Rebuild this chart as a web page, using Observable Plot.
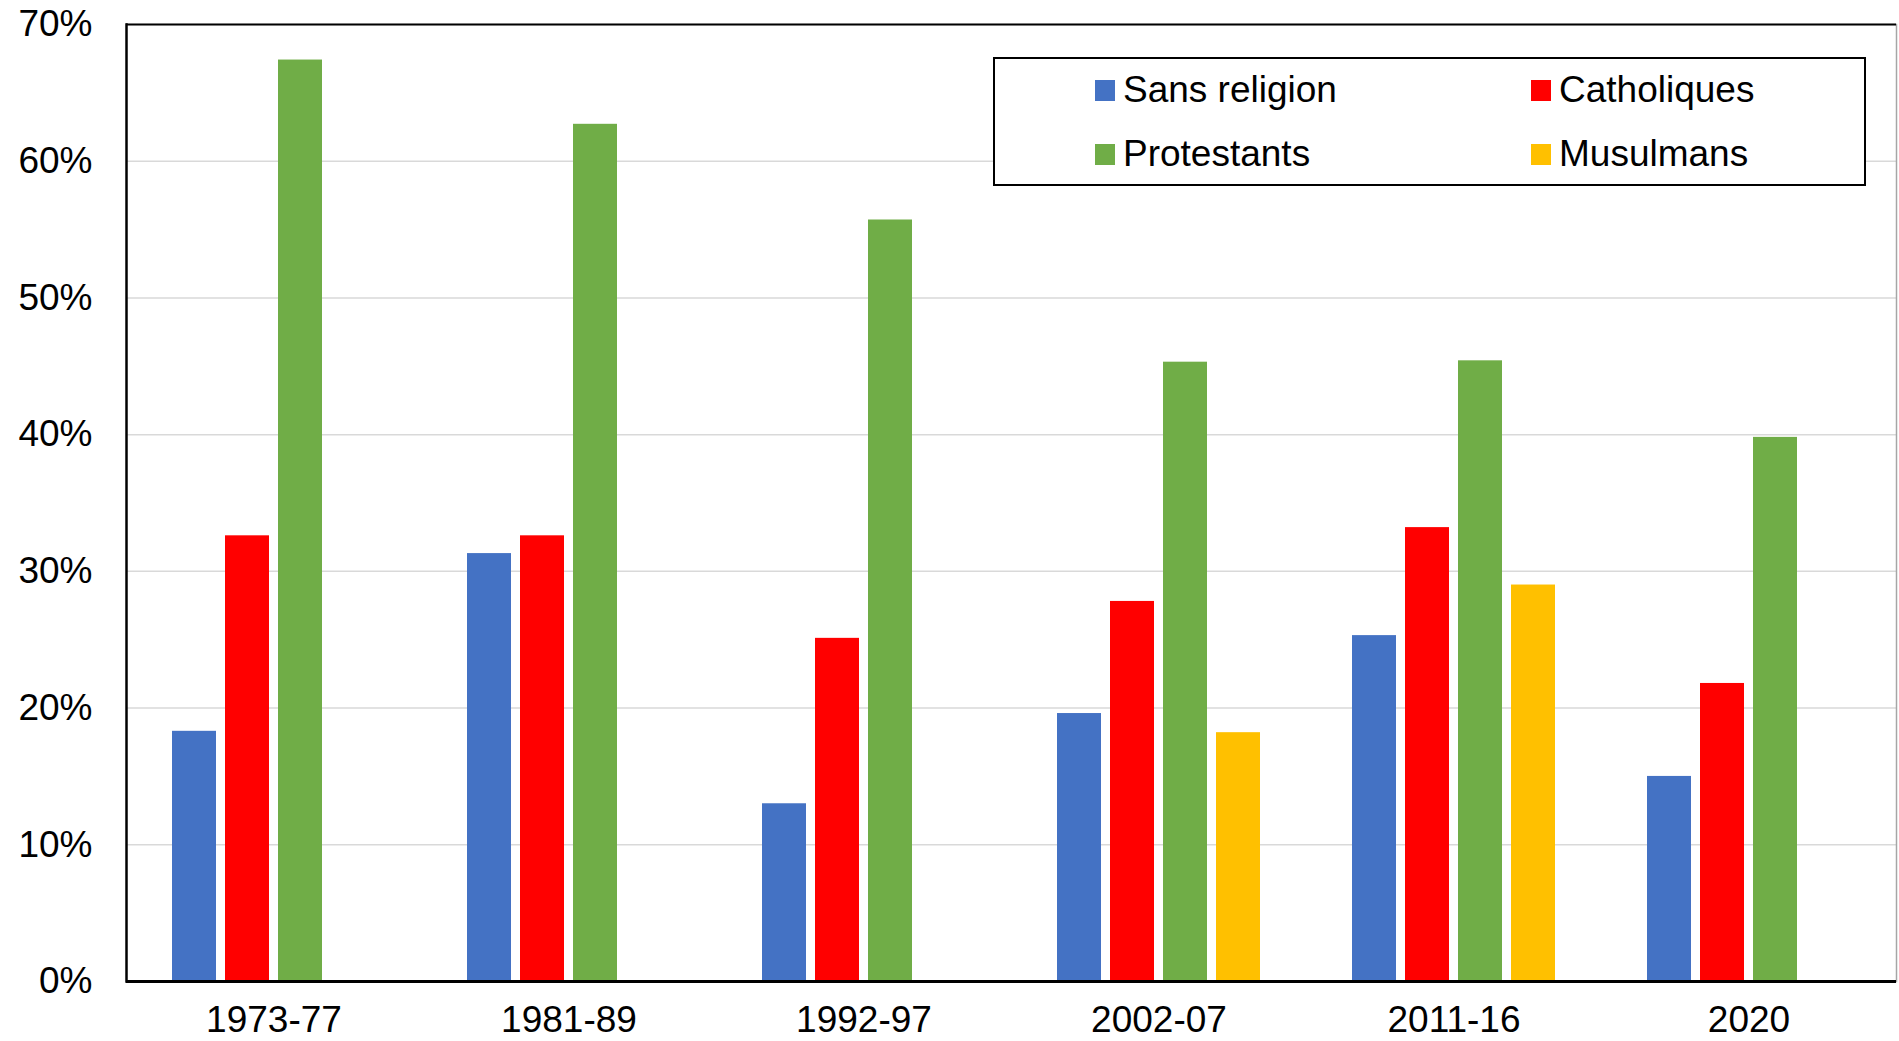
<!DOCTYPE html>
<html>
<head>
<meta charset="utf-8">
<script src="https://cdn.jsdelivr.net/npm/d3@7"></script>
<script src="https://cdn.jsdelivr.net/npm/@observablehq/plot@0.6"></script>
<style>
  html, body { margin: 0; padding: 0; background: #fff; }
  #wrap { position: relative; width: 1899px; height: 1041px; font-family: "Liberation Sans", Arial, sans-serif; }
  #legend { position: absolute; left: 993px; top: 57px; width: 873px; height: 129px; box-sizing: border-box; border: 2px solid #000; background: #fff; }
  .item { position: absolute; display: flex; align-items: center; height: 44px; font-size: 37px; color: #000; white-space: nowrap; }
  .sw { width: 20px; height: 21px; margin-right: 8px; flex: none; }
</style>
</head>
<body>
<div id="wrap"></div>
<script>
const periods = ["1973-77", "1981-89", "1992-97", "2002-07", "2011-16", "2020"];
const seriesNames = ["Sans religion", "Catholiques", "Protestants", "Musulmans"];
const seriesColors = ["#4472C4", "#FF0000", "#70AD47", "#FFC000"];
const sansReligion = [18.3, 31.3, 13.0, 19.6, 25.3, 15.0];
const catholiques = [32.6, 32.6, 25.1, 27.8, 33.2, 21.8];
const protestants = [67.4, 62.7, 55.7, 45.3, 45.4, 39.8];
const musulmans = [null, null, null, 18.2, 29.0, null];
const yTicks = [0, 10, 20, 30, 40, 50, 60, 70];

const seriesValues = [sansReligion, catholiques, protestants, musulmans];
const data = [];
periods.forEach((p, i) => {
  seriesNames.forEach((s, j) => {
    const v = seriesValues[j][i];
    if (v != null) data.push({period: p, series: s, value: v});
  });
});

const chart = Plot.plot({
  width: 1899,
  height: 1041,
  marginLeft: 123,
  marginRight: 1,
  marginTop: 24,
  marginBottom: 60,
  style: {fontFamily: "'Liberation Sans', Arial, sans-serif", fontSize: "37px", color: "#000", background: "#fff"},
  fx: {domain: periods, padding: 0, label: null},
  x: {domain: seriesNames, paddingInner: 0.175, paddingOuter: 0.86, axis: null},
  y: {domain: [0, 70], axis: null},
  color: {domain: seriesNames, range: seriesColors},
  marks: [
    Plot.gridY(yTicks, {stroke: "#d9d9d9", strokeOpacity: 1, strokeWidth: 1.5}),
    Plot.barY(data, {fx: "period", x: "series", y: "value", fill: "series"}),
    Plot.frame({anchor: "right", facetAnchor: "right", stroke: "#a6a6a6", strokeWidth: 1.5}),
    Plot.frame({anchor: "left", facetAnchor: "left", stroke: "#000", strokeWidth: 2.5}),
    Plot.ruleY([70], {stroke: "#000", strokeWidth: 2}),
    Plot.ruleY([0], {stroke: "#000", strokeWidth: 3}),
    Plot.axisY({ticks: yTicks, tickFormat: d => d + "%", tickSize: 0, tickPadding: 34, label: null}),
    Plot.axisFx({anchor: "bottom", tickSize: 0, tickPadding: 24, label: null})
  ]
});

const wrap = document.getElementById("wrap");
wrap.appendChild(chart);

const legend = document.createElement("div");
legend.id = "legend";
const positions = [[102, 33], [538, 33], [102, 97], [538, 97]];
const order = ["Sans religion", "Catholiques", "Protestants", "Musulmans"];
order.forEach((name, k) => {
  const it = document.createElement("div");
  it.className = "item";
  it.style.left = (positions[k][0] - 2) + "px";
  it.style.top = (positions[k][1] - 2 - 22) + "px";
  const sw = document.createElement("span");
  sw.className = "sw";
  sw.style.background = seriesColors[seriesNames.indexOf(name)];
  const tx = document.createElement("span");
  tx.textContent = name;
  it.appendChild(sw);
  it.appendChild(tx);
  legend.appendChild(it);
});
wrap.appendChild(legend);
</script>
</body>
</html>
